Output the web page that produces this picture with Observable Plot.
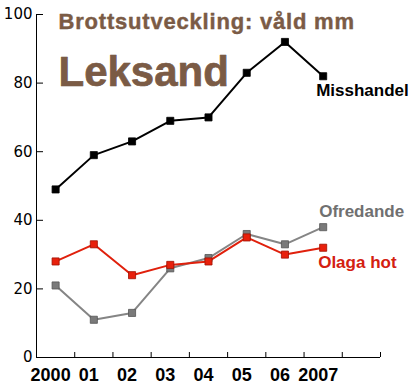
<!DOCTYPE html>
<html><head><meta charset="utf-8">
<script src="https://cdn.jsdelivr.net/npm/d3@7"></script>
<script src="https://cdn.jsdelivr.net/npm/@observablehq/plot@0.6"></script>
<style>body{margin:0;background:#fff}</style>
</head><body><div id="chart"></div>
<script>
const years = [2000, 2001, 2002, 2003, 2004, 2005, 2006, 2007];
const yearLabels = ["2000", "01", "02", "03", "04", "05", "06", "2007"];
const misshandel = [49, 59, 63, 69, 70, 83, 92, 82];
const olagaHot = [28, 33, 24, 27, 28, 35, 30, 32];
const ofredande = [21, 11, 13, 26, 29, 36, 33, 38];
const yTicks = [0, 20, 40, 60, 80, 100];
const bandEdges = [2000.5, 2001.5, 2002.5, 2003.5, 2004.5, 2005.5, 2006.5, 2007.5, 2008.5];

const seriesDefs = [
  {name: "Ofredande", values: ofredande, line: "#858585", fill: "#7a7a7a", edge: "#555", label: "#707070", dx: -4, dy: -16},
  {name: "Olaga hot", values: olagaHot, line: "#e0200c", fill: "#e8200c", edge: "#a01000", label: "#d42010", dx: -5, dy: 15},
  {name: "Misshandel", values: misshandel, line: "#000", fill: "#000", edge: "#000", label: "#000", dx: -7, dy: 14}
];
const rows = seriesDefs.flatMap(s => years.map((y, i) => ({series: s.name, year: y, value: s.values[i]})));
const fmt = d => yearLabels[years.indexOf(d)];

const marks = [
  Plot.ruleX([1999.5], {stroke: "#000", strokeWidth: 1}),
  Plot.ruleY([0], {stroke: "#000", strokeWidth: 1}),
  Plot.axisY({ticks: yTicks, tickSize: 0, tickPadding: 4, fontSize: 15, fontFamily: "DejaVu Sans", fill: "#000", label: null}),
  Plot.axisY({ticks: yTicks, tickSize: -7, text: null, stroke: "#000", label: null}),
  Plot.axisX({ticks: years, tickSize: 0, tickPadding: 11, tickFormat: fmt, fontSize: 18, fontWeight: "bold", fontFamily: "Liberation Sans", fill: "#000", dx: -5, label: null}),
  Plot.axisX({ticks: bandEdges, tickSize: -5, text: null, stroke: "#000", label: null}),
  Plot.text(["Brottsutveckling: våld mm"], {frameAnchor: "top-left", dx: 22, dy: -1, textAnchor: "start", fontSize: 22, fontWeight: "bold", fontFamily: "Liberation Sans", fill: "#7b5b45", stroke: "#6a4c39", strokeWidth: 0.4, className: "title1"}),
  Plot.text(["Leksand"], {frameAnchor: "top-left", dx: 22, dy: 42, textAnchor: "start", fontSize: 42, fontWeight: "bold", fontFamily: "Liberation Sans", fill: "#7b5b45", stroke: "#5e4333", strokeWidth: 0.6})
];
for (const s of seriesDefs) {
  const d = rows.filter(r => r.series === s.name);
  marks.push(Plot.line(d, {x: "year", y: "value", stroke: s.line, strokeWidth: 2}));
  marks.push(Plot.dot(d, {x: "year", y: "value", symbol: "square", r: 4, fill: s.fill, stroke: s.edge, strokeWidth: 0.8}));
  marks.push(Plot.text(d.slice(-1), {x: "year", y: "value", text: () => s.name, textAnchor: "start", dx: s.dx, dy: s.dy, fontSize: 17, fontWeight: "bold", fontFamily: "Liberation Sans", fill: s.label}));
}

const chart = Plot.plot({
  width: 414, height: 385,
  marginLeft: 36, marginRight: 34, marginTop: 14, marginBottom: 28,
  x: {domain: [1999.5, 2008.5], axis: null},
  y: {domain: [0, 100], axis: null},
  style: {background: "#fff", overflow: "visible"},
  marks
});
d3.select(chart).selectAll("g.title1 text").style("letter-spacing", "0.8px");
document.getElementById("chart").appendChild(chart);
</script></body></html>
